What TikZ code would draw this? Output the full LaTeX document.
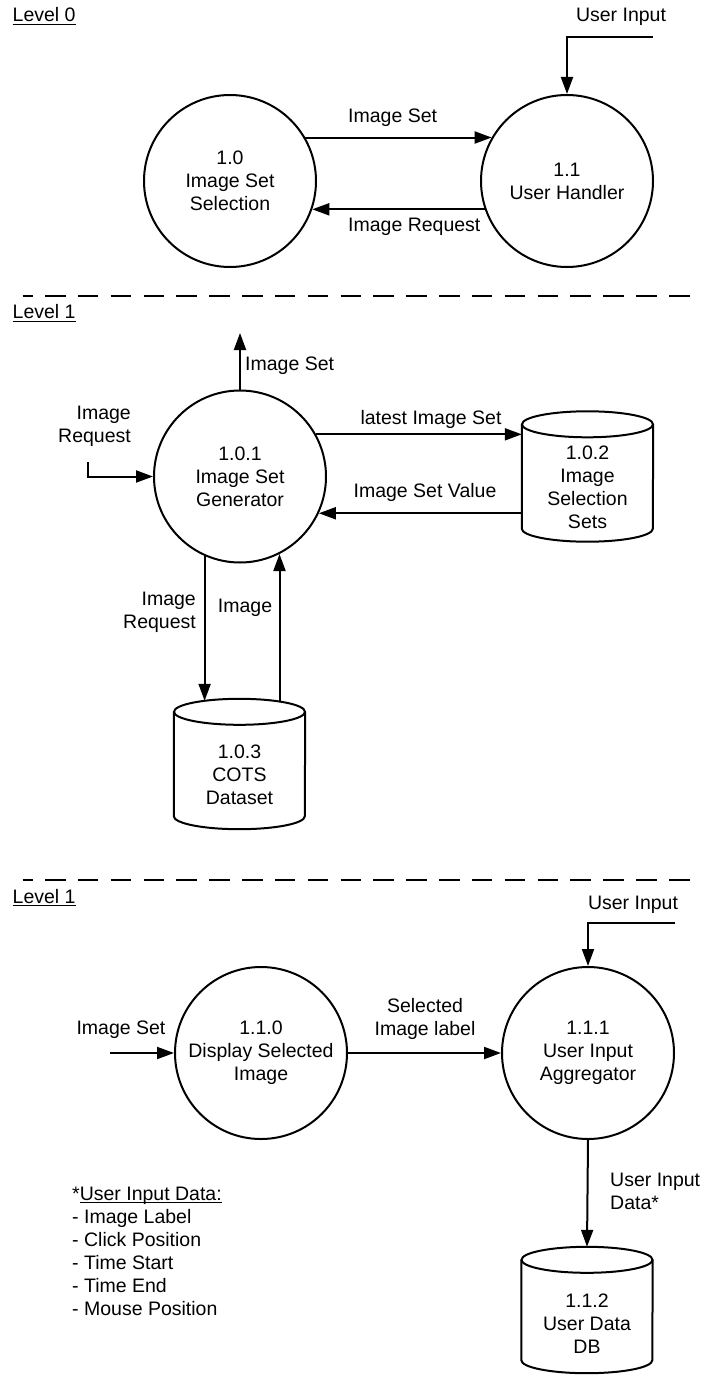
\documentclass[tikz,border=0pt]{standalone}
\usepackage{fontspec}
\setmainfont{Liberation Sans}
\usetikzlibrary{arrows.meta,calc}

% underline with a fixed offset below the baseline
\newcommand{\ulbox}[1]{\setbox0\hbox{#1}\rlap{\rule[-3.2pt]{\wd0}{1.2pt}}\box0}

% data store: open cylinder drawn around an empty named node
\newcommand{\drawstore}[1]{%
  \draw[conn] ([yshift=-13]#1.north) ellipse [x radius=65.5, y radius=13];
  \draw[conn] ([yshift=-13]#1.north west) -- ([yshift=13]#1.south west)
    arc[start angle=180, end angle=360, x radius=65.5, y radius=13]
    -- ([yshift=-13]#1.north east);
}

\tikzset{
  conn/.style={line width=2pt},
  flow/.style={line width=2pt, -{Triangle[length=17pt,width=12pt]}},
  proc/.style={circle, draw, line width=2pt, minimum size=172pt, inner sep=0pt, align=center},
  store/.style={minimum width=131pt, minimum height=130pt, inner sep=0pt},
  lbl/.style={inner sep=0pt, align=center},
  sep/.style={line width=2pt, dash pattern=on 20.5pt off 12.34pt, dash phase=10.5pt},
}

\begin{document}
\begin{tikzpicture}[x=1pt, y=1pt, font=\fontsize{19.5}{23}\selectfont]
\useasboundingbox (0,0) rectangle (701,-1375);

% ---------------- Level 0 ----------------
\node[lbl, anchor=base west] (lv0) at (12.5,-21.7) {\ulbox{Level 0}};
\node[lbl] (in0) at (621,-17) {User Input};
\node[proc] (p10) at (230,-181) {1.0\\Image Set\\Selection};
\node[proc] (p11) at (567,-181) {1.1\\User Handler};

\coordinate (in0s) at (653,-37);
\draw[flow] (in0s) -- (in0s -| p11.north) -- (p11.north);

\draw[flow] (p10.30) -- (p11.150);
\node[lbl, anchor=west] (l0a) at (348,-118) {Image Set};
\draw[flow] (p11.199) -- (p10.341);
\node[lbl, anchor=west] (l0b) at (348,-227) {Image Request};

\coordinate (d1a) at (22.7,-296);
\coordinate (d1b) at (690,-296);
\draw[sep] (d1a) -- (d1b);

% ---------------- Level 1: image set selection ----------------
\node[lbl, anchor=base west] (lv1a) at (12.5,-318.5) {\ulbox{Level 1}};
\node[proc] (p101) at (240,-476.5) {1.0.1\\Image Set\\Generator};

\coordinate (out1) at (240,-333);
\draw[flow] (p101.north) -- (out1);
\node[lbl, anchor=west] (l1a) at (245,-366) {Image Set};

\node[lbl, anchor=east, align=right] (l1b) at (131,-426.5) {Image\\Request};
\coordinate (req1) at (88,-462);
\draw[flow] (req1) |- (p101.west);

\node[store] (s102) at (587.5,-476.5) {};
\node[lbl] (s102t) at (587.5,-487) {1.0.2\\Image\\Selection\\Sets};
\drawstore{s102}

\draw[flow] (p101.29) -- (p101.29 -| s102.west);
\node[lbl] (l1c) at (431,-419) {latest Image Set};
\draw[flow] (p101.335 -| s102.west) -- (p101.335);
\node[lbl] (l1d) at (425,-492) {Image Set Value};

\node[store] (s103) at (239.5,-764) {};
\node[lbl] (s103t) at (239.5,-775) {1.0.3\\COTS\\Dataset};
\drawstore{s103}

\draw[flow] (p101.246) -- ([yshift=-2]p101.246 |- s103.north);
\node[lbl, anchor=east, align=right] (l1e) at (196,-612.5) {Image\\Request};
\draw[flow] ([yshift=-2]p101.297 |- s103.north) -- (p101.297);
\node[lbl] (l1f) at (245,-608) {Image};

\coordinate (d2a) at (22.7,-880);
\coordinate (d2b) at (690,-880);
\draw[sep] (d2a) -- (d2b);

% ---------------- Level 1: user handling ----------------
\node[lbl, anchor=base west] (lv1b) at (12.5,-903) {\ulbox{Level 1}};
\node[lbl] (in2) at (633,-905) {User Input};
\node[proc] (p110) at (261,-1053) {1.1.0\\Display Selected\\Image};
\node[proc] (p111) at (588,-1053) {1.1.1\\User Input\\Aggregator};

\coordinate (in2s) at (675,-923);
\draw[flow] (in2s) -- (in2s -| p111.north) -- (p111.north);

\coordinate (set2) at (110,-1053);
\draw[flow] (set2) -- (p110.west);
\node[lbl] (l2a) at (121,-1030) {Image Set};

\draw[flow] (p110.east) -- (p111.west);
\node[lbl] (l2b) at (425,-1019) {Selected\\Image label};

\node[store, minimum height=126pt] (s112) at (587,-1310) {};
\node[lbl] (s112t) at (587,-1324) {1.1.2\\User Data\\DB};
\drawstore{s112}

\draw[flow] (p111.south) -- (s112.north);
\node[lbl, anchor=west, align=left] (l2c) at (610,-1191.5) {User Input\\Data*};

\node[lbl, anchor=west, align=left] (note) at (72,-1251)
  {*\ulbox{User Input Data:}\\- Image Label\\- Click Position\\- Time Start\\- Time End\\- Mouse Position};
\end{tikzpicture}
\end{document}
